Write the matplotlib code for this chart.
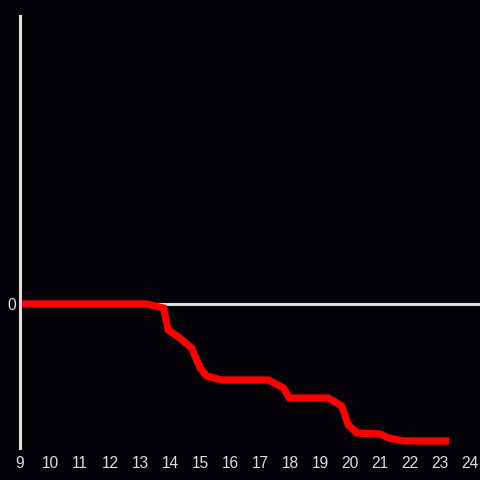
import matplotlib.pyplot as plt

# hours of the day and values (arbitrary units)
hours = [9.0, 13.22, 13.78, 13.94, 14.28, 14.72, 15.0, 15.22, 15.72, 17.28,
         17.78, 17.98, 19.28, 19.72, 19.94, 20.22, 21.0, 21.28, 21.78, 23.3]
values = [0, 0, -4, -26, -33, -44, -64, -72, -76, -76,
          -84, -94, -94, -102, -121, -129, -130, -134, -137, -137]
xticks = list(range(9, 25))

bg = '#050307'
fg = '#dedede'

plt.rcParams['font.family'] = ['Liberation Sans', 'DejaVu Sans']

fig = plt.figure(figsize=(4.8, 4.8), dpi=100, facecolor=bg)
ax = fig.add_axes([20 / 480, 32 / 480, 460 / 480, 432 / 480], facecolor=bg)

ax.axhline(0, color=fg, lw=2.2, zorder=1)
ax.plot(hours, values, color='#ff0000', lw=5.2, solid_joinstyle='miter',
        solid_capstyle='butt', zorder=2)

ax.set_xlim(9, 24.33)
ax.set_ylim(-144, 288)
ax.set_xticks(xticks)
ax.set_yticks([0])

for s in ['top', 'right', 'bottom']:
    ax.spines[s].set_visible(False)
ax.spines['left'].set_color(fg)
ax.spines['left'].set_linewidth(2.2)

ax.tick_params(colors=fg, labelsize=11.2, length=0)
ax.tick_params(axis='x', pad=5.5)
ax.tick_params(axis='y', pad=3)

fig.savefig('out.png', dpi=100, facecolor=bg)
